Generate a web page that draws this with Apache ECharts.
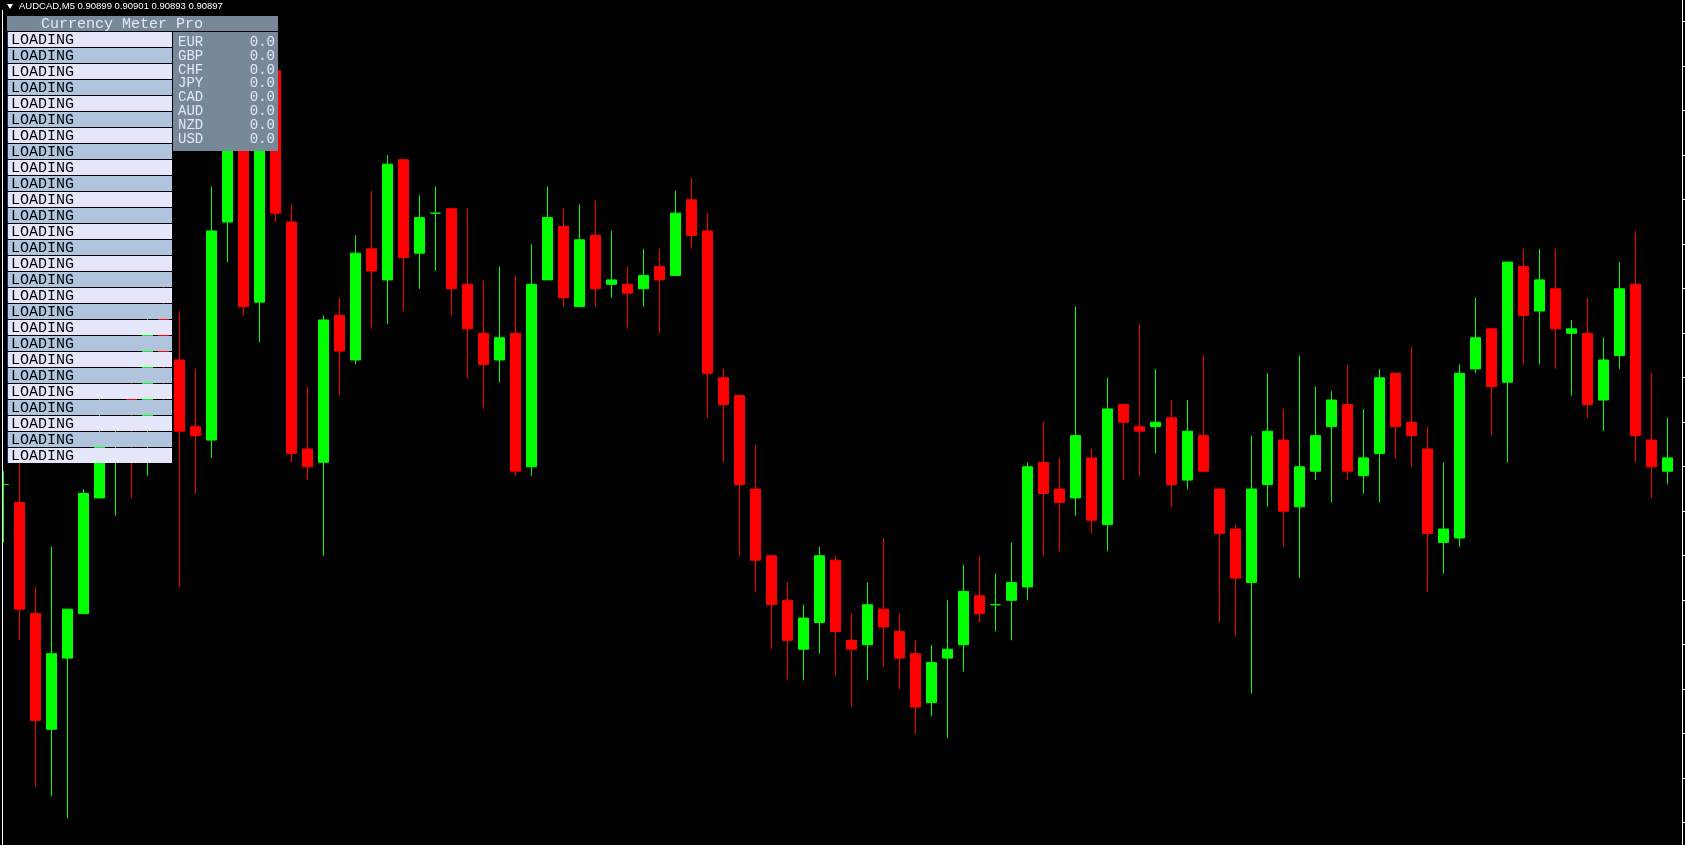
<!DOCTYPE html>
<html>
<head>
<meta charset="utf-8">
<script src="https://cdn.jsdelivr.net/npm/echarts@6/dist/echarts.min.js"></script>
<style>
html,body{margin:0;padding:0;background:#000;overflow:hidden;}
#chart{width:1685px;height:845px;}
</style>
</head>
<body>
<div id="chart"></div>
<script>
// ---------- data ----------
const symbol = 'AUDCAD';
const timeframe = 'M5';
const titleOHLC = [0.90899, 0.90901, 0.90893, 0.90897];

const opens = [
0.90886,0.90882,0.90857,0.90831,0.90847,0.90857,0.90883,0.90899,0.90907,0.90900,
0.90925,0.90914,0.90899,0.90896,0.90945,0.90968,0.90927,0.90979,0.90945,0.90894,
0.90891,0.90924,0.90914,0.90939,0.90932,0.90959,0.90938,0.90947,0.90948,0.90931,
0.90920,0.90914,0.90920,0.90890,0.90932,0.90944,0.90926,0.90942,0.90931,0.90931,
0.90930,0.90935,0.90933,0.90950,0.90943,0.90910,0.90906,0.90885,0.90870,0.90860,
0.90849,0.90855,0.90869,0.90851,0.90850,0.90858,0.90853,0.90848,0.90837,0.90847,
0.90850,0.90861,0.90859,0.90860,0.90863,0.90891,0.90885,0.90883,0.90892,0.90877,
0.90904,0.90899,0.90899,0.90901,0.90887,0.90897,0.90885,0.90876,0.90864,0.90886,
0.90896,0.90881,0.90889,0.90899,0.90904,0.90888,0.90893,0.90911,0.90900,0.90894,
0.90873,0.90874,0.90912,0.90921,0.90909,0.90935,0.90925,0.90930,0.90920,0.90920,
0.90905,0.90915,0.90931,0.90896,0.90889];
const highs = [
0.90889,0.90893,0.90863,0.90872,0.90858,0.90885,0.90907,0.90901,0.90911,0.90925,
0.90932,0.90925,0.90912,0.90953,0.90971,0.90971,0.90985,0.90982,0.90949,0.90908,
0.90924,0.90928,0.90942,0.90952,0.90960,0.90959,0.90951,0.90953,0.90948,0.90948,
0.90932,0.90935,0.90933,0.90940,0.90953,0.90948,0.90949,0.90950,0.90943,0.90935,
0.90939,0.90939,0.90952,0.90955,0.90947,0.90912,0.90906,0.90895,0.90870,0.90864,
0.90859,0.90872,0.90870,0.90857,0.90864,0.90874,0.90857,0.90851,0.90850,0.90860,
0.90868,0.90870,0.90866,0.90873,0.90891,0.90900,0.90892,0.90926,0.90894,0.90910,
0.90904,0.90922,0.90912,0.90905,0.90905,0.90915,0.90885,0.90877,0.90897,0.90911,
0.90903,0.90915,0.90908,0.90907,0.90913,0.90903,0.90912,0.90911,0.90917,0.90899,
0.90891,0.90913,0.90928,0.90921,0.90936,0.90939,0.90939,0.90939,0.90923,0.90928,
0.90919,0.90936,0.90943,0.90911,0.90901];
const lows = [
0.90873,0.90851,0.90818,0.90816,0.90811,0.90857,0.90883,0.90879,0.90883,0.90888,
0.90904,0.90863,0.90884,0.90892,0.90936,0.90924,0.90918,0.90945,0.90891,0.90887,
0.90870,0.90906,0.90913,0.90921,0.90922,0.90925,0.90930,0.90934,0.90924,0.90910,
0.90903,0.90909,0.90888,0.90888,0.90932,0.90926,0.90926,0.90926,0.90928,0.90921,
0.90926,0.90920,0.90933,0.90939,0.90901,0.90891,0.90870,0.90862,0.90849,0.90842,
0.90842,0.90848,0.90843,0.90836,0.90842,0.90845,0.90840,0.90830,0.90834,0.90829,
0.90844,0.90855,0.90853,0.90851,0.90860,0.90870,0.90871,0.90879,0.90875,0.90871,
0.90887,0.90888,0.90893,0.90881,0.90885,0.90889,0.90855,0.90852,0.90839,0.90881,
0.90872,0.90865,0.90887,0.90882,0.90887,0.90884,0.90882,0.90892,0.90890,0.90862,
0.90866,0.90872,0.90911,0.90897,0.90891,0.90913,0.90913,0.90912,0.90906,0.90901,
0.90898,0.90912,0.90891,0.90883,0.90886];
const closes = [
0.90886,0.90858,0.90833,0.90848,0.90858,0.90884,0.90896,0.90901,0.90903,0.90921,
0.90914,0.90898,0.90897,0.90943,0.90968,0.90926,0.90979,0.90947,0.90893,0.90890,
0.90923,0.90916,0.90938,0.90934,0.90958,0.90937,0.90946,0.90947,0.90930,0.90921,
0.90913,0.90919,0.90889,0.90931,0.90946,0.90928,0.90941,0.90930,0.90932,0.90929,
0.90933,0.90932,0.90947,0.90942,0.90911,0.90904,0.90886,0.90869,0.90859,0.90851,
0.90856,0.90870,0.90853,0.90849,0.90859,0.90854,0.90847,0.90836,0.90846,0.90849,
0.90862,0.90857,0.90859,0.90864,0.90890,0.90884,0.90882,0.90897,0.90878,0.90903,
0.90900,0.90898,0.90900,0.90886,0.90898,0.90889,0.90875,0.90865,0.90885,0.90898,
0.90880,0.90890,0.90897,0.90905,0.90889,0.90892,0.90910,0.90899,0.90897,0.90875,
0.90876,0.90911,0.90919,0.90908,0.90936,0.90924,0.90932,0.90921,0.90921,0.90904,
0.90914,0.90930,0.90897,0.90890,0.90892];

// bar times (M5), labels only
const categories = [];
for (let i = 0; i < opens.length; i++) {
  const m = 9 * 60 + 20 + 5 * i;
  categories.push(String(Math.floor(m / 60) % 24).padStart(2, '0') + ':' + String(m % 60).padStart(2, '0'));
}

// price scale: visible window and the marked price levels on the right border
const windowMin = 0.908050, windowMax = 0.909949;
const tickMin = 0.9081, tickMax = 0.9099, tickStep = 0.0001;

const panelTitle = 'Currency Meter Pro';
const loadingText = 'LOADING';
const loadingRowCount = 27;
const currencies = ['EUR', 'GBP', 'CHF', 'JPY', 'CAD', 'AUD', 'NZD', 'USD'];
const strengths = [0.0, 0.0, 0.0, 0.0, 0.0, 0.0, 0.0, 0.0];

// ---------- chart ----------
const candleData = categories.map((c, i) => [opens[i], closes[i], lows[i], highs[i]]);

const Z = 100;
const mono = '"Liberation Mono", "Courier New", monospace';
const gfx = [];
// title line
gfx.push({type: 'polygon', z: Z, shape: {points: [[7, 4], [13, 4], [10, 9]]}, style: {fill: '#ffffff'}});
gfx.push({type: 'text', z: Z, x: 19, y: 6, style: {
  text: symbol + ',' + timeframe + ' ' + titleOHLC.map(v => v.toFixed(5)).join(' '),
  fill: '#ffffff', fontSize: 9.5, fontFamily: '"Liberation Sans", Arial, sans-serif', verticalAlign: 'middle'}});
// left edge of chart area + border
gfx.push({type: 'rect', z: Z, shape: {x: 0, y: 10, width: 2, height: 835}, style: {fill: '#000000'}});
gfx.push({type: 'rect', z: Z, shape: {x: 2, y: 10, width: 1, height: 835}, style: {fill: '#ffffff'}});
// panel header
gfx.push({type: 'rect', z: Z, shape: {x: 7, y: 16, width: 271, height: 15}, style: {fill: '#778899'}});
gfx.push({type: 'text', z: Z + 1, x: 41, y: 24, style: {text: panelTitle, fill: '#E6E6FA', fontSize: 15, fontFamily: mono, verticalAlign: 'middle'}});
// loading rows
for (let i = 0; i < loadingRowCount; i++) {
  const y = 32 + 16 * i;
  gfx.push({type: 'rect', z: Z, shape: {x: 7, y: y, width: 165, height: 15}, style: {fill: i % 2 ? '#B0C4DE' : '#E6E6FA'}});
  gfx.push({type: 'rect', z: Z + 1, shape: {x: 7, y: y, width: 1, height: 15}, style: {fill: '#1e2d78'}});
  gfx.push({type: 'text', z: Z + 1, x: 11, y: y + 8, style: {text: loadingText, fill: '#000000', fontSize: 15, fontFamily: mono, verticalAlign: 'middle'}});
}
// currency box
gfx.push({type: 'rect', z: Z, shape: {x: 173, y: 32, width: 105, height: 119}, style: {fill: '#778899'}});
currencies.forEach((c, i) => {
  const y = 42 + 13.9 * i;
  gfx.push({type: 'text', z: Z + 1, x: 178, y: y, style: {text: c, fill: '#E6E6FA', fontSize: 14, fontFamily: mono, verticalAlign: 'middle'}});
  gfx.push({type: 'text', z: Z + 1, x: 275, y: y, style: {text: strengths[i].toFixed(1), fill: '#E6E6FA', fontSize: 14, fontFamily: mono, align: 'right', verticalAlign: 'middle'}});
});

const chart = echarts.init(document.getElementById('chart'), null, {renderer: 'canvas'});
chart.setOption({
  backgroundColor: '#000000',
  animation: false,
  grid: [
    {left: 3.5, right: 17.5, top: 0, bottom: 0},
    {left: 3.5, right: 17.5, top: 21.6, bottom: 22.4}
  ],
  xAxis: [
    {gridIndex: 0, type: 'category', data: categories, boundaryGap: false, show: false},
    {gridIndex: 1, type: 'category', data: categories, boundaryGap: false, show: false}
  ],
  yAxis: [
    {
      gridIndex: 0, type: 'value', position: 'right', offset: 15,
      min: windowMin, max: windowMax,
      axisLine: {show: true, lineStyle: {color: '#ffffff', width: 1}},
      axisTick: {show: false}, axisLabel: {show: false}, splitLine: {show: false}
    },
    {
      gridIndex: 1, type: 'value', position: 'right', offset: 15,
      min: tickMin, max: tickMax, interval: tickStep,
      axisLine: {show: false},
      axisTick: {show: true, inside: false, length: 3, lineStyle: {color: '#ffffff', width: 1}},
      axisLabel: {show: false}, splitLine: {show: false}
    }
  ],
  series: [{
    type: 'candlestick',
    xAxisIndex: 0, yAxisIndex: 0,
    data: candleData,
    barWidth: 10,
    clip: false,
    itemStyle: {
      color: '#00FF00', color0: '#FF0000',
      borderColor: '#00FF00', borderColor0: '#FF0000', borderColorDoji: '#00FF00',
      borderWidth: 1
    }
  }],
  graphic: gfx
});
</script>
</body>
</html>
